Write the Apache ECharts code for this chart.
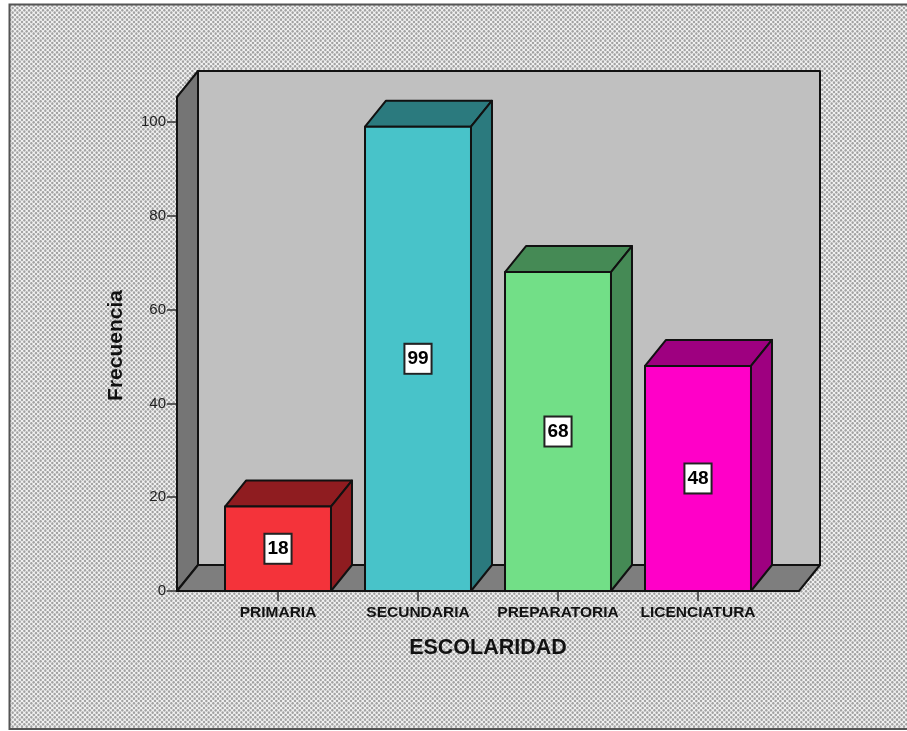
<!DOCTYPE html>
<html><head><meta charset="utf-8">
<style>html,body{margin:0;padding:0;background:#fff}#c{width:907px;height:731px}</style>
<script src="https://cdn.jsdelivr.net/npm/echarts@6/dist/echarts.min.js"></script>
</head><body><div id="c"></div>
<script>
const categories = ['PRIMARIA','SECUNDARIA','PREPARATORIA','LICENCIATURA'];
const frequencies = [18,99,68,48];
const yTicks = {min:0,max:100,interval:20};
const frontColors = ['#f4333a','#48c3c9','#72df87','#ff00c8'];
const sideColors = ['#8f1c20','#2b7a7e','#458a55','#9e0080'];

const DX = 21, DY = 26, SIDE = 31, OVER = 25, BAR = 0.757;
const FONT = '"Liberation Sans", Arial, sans-serif';
const EDGE = {stroke:'#111', lineWidth:2, lineJoin:'round'};

function tile(){
  const s=14, c=document.createElement('canvas'); c.width=s; c.height=s;
  const g=c.getContext('2d'); g.fillStyle='#f2f2f2'; g.fillRect(0,0,s,s);
  const p=s/3; g.fillStyle='#a2a2a2';
  for(let j=-1;j<=6;j++)for(let i=-1;i<=3;i++){
    const x=i*p+(((j%2)+2)%2)*p/2, y=j*p/2;
    g.beginPath(); g.ellipse(x+1,y+1,1.2,1.3,0,0,Math.PI*2); g.fill();
  }
  return c;
}
function poly(points,fill){return {type:'polygon',shape:{points},style:Object.assign({fill},EDGE)};}

function renderWalls(params,api){
  const cs=params.coordSys, L=cs.x-SIDE, R=cs.x+cs.width+SIDE, B=cs.y+cs.height, T=cs.y-OVER;
  return {type:'group',children:[
    poly([[L+DX,T-DY],[R+DX,T-DY],[R+DX,B-DY],[L+DX,B-DY]],'#c0c0c0'),
    poly([[L,T],[L+DX,T-DY],[L+DX,B-DY],[L,B]],'#757575'),
    poly([[L,B],[L+DX,B-DY],[R+DX,B-DY],[R,B]],'#7e7e7e')
  ]};
}
function renderBar(params,api){
  const i=api.value(0), v=api.value(1);
  const w=api.size([1,0])[0]*BAR, c=api.coord([i,v]), b=api.coord([i,0]);
  const l=c[0]-w/2, r=c[0]+w/2, t=c[1], y0=b[1];
  return {type:'group',children:[
    poly([[l,t],[l+DX,t-DY],[r+DX,t-DY],[r,t]],sideColors[i]),
    poly([[r,t],[r+DX,t-DY],[r+DX,y0-DY],[r,y0]],sideColors[i]),
    poly([[l,t],[r,t],[r,y0],[l,y0]],frontColors[i]),
    {type:'text',x:c[0],y:(t+y0)/2,style:{text:String(v),fill:'#000',font:'bold 19px '+FONT,
      align:'center',verticalAlign:'middle',backgroundColor:'#fff',borderColor:'#222',borderWidth:2,
      padding:[5,2,4,2]}}
  ]};
}
const chart=echarts.init(document.getElementById('c'),null,{renderer:'canvas'});
chart.setOption({
  animation:false,
  backgroundColor:'#fff',
  graphic:[{type:'rect',z:-10,shape:{x:9.5,y:4.5,width:910,height:724.5},
    style:{fill:{image:tile(),repeat:'repeat'},stroke:'#555',lineWidth:2}}],
  grid:{left:208,width:560,top:122,height:469},
  xAxis:{type:'category',data:categories,
    axisLine:{show:false},
    axisTick:{show:true,alignWithLabel:true,length:10,lineStyle:{color:'#333',width:1.5}},
    axisLabel:{margin:14,interval:0,color:'#111',fontFamily:FONT,fontWeight:'bold',fontSize:15.5},
    name:'ESCOLARIDAD',nameLocation:'middle',nameGap:46,
    nameTextStyle:{fontFamily:FONT,fontWeight:'bold',fontSize:21.5,color:'#111'}},
  yAxis:{type:'value',min:yTicks.min,max:yTicks.max,interval:yTicks.interval,offset:31,
    splitLine:{show:false},
    axisLine:{show:false},
    axisTick:{show:true,length:10,lineStyle:{color:'#333',width:1.5}},
    axisLabel:{margin:11,color:'#222',fontFamily:FONT,fontSize:15},
    name:'Frecuencia',nameLocation:'middle',nameGap:50,
    nameTextStyle:{fontFamily:FONT,fontWeight:'bold',fontSize:21,color:'#111',padding:[0,0,0,22]}},
  series:[
    {type:'custom',z:1,renderItem:renderWalls,data:[[0,0]],silent:true},
    {type:'custom',z:2,renderItem:renderBar,encode:{x:0,y:1},
      data:frequencies.map((v,i)=>[i,v])}
  ]
});
</script></body></html>
